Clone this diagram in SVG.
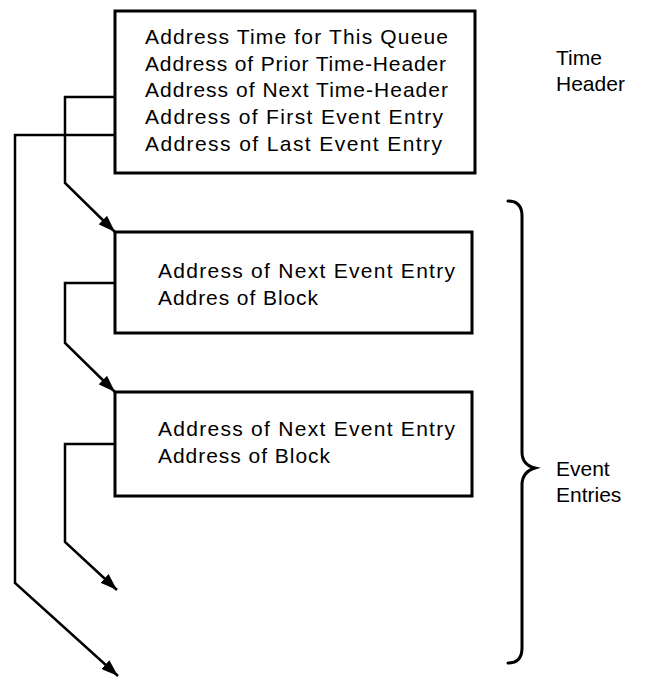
<svg xmlns="http://www.w3.org/2000/svg" width="646" height="680" viewBox="0 0 646 680">
<style>
.box{fill:#fff;stroke:#000;stroke-width:3}
.t{font-family:"Liberation Sans",Arial,sans-serif;font-size:21px;fill:#000}
.c{fill:none;stroke:#000;stroke-width:2.5;stroke-linejoin:miter}
.br{fill:none;stroke:#000;stroke-width:3;stroke-linecap:round}
</style>
<defs>
<marker id="ah" viewBox="0 0 17 12" refX="17" refY="6" markerWidth="17" markerHeight="12" markerUnits="userSpaceOnUse" orient="auto">
<path d="M0,0 L17,6 L0,12 Z" fill="#000"/>
</marker>
</defs>
<rect width="646" height="680" fill="#fff"/>
<g id="connectors">
<path class="c" d="M115,97 H65 V183 L115,232" marker-end="url(#ah)"/>
<path class="c" d="M115,135 H15 V583 L118,676" marker-end="url(#ah)"/>
<path class="c" d="M115,283 H65 V343 L115,392" marker-end="url(#ah)"/>
<path class="c" d="M115,444 H65 V542 L117,590" marker-end="url(#ah)"/>
</g>
<g id="time-header">
<rect class="box" x="115" y="11" width="360" height="162"/>
<text class="t" x="145" y="44" textLength="303">Address Time for This Queue</text>
<text class="t" x="145" y="71" textLength="301">Address of Prior Time-Header</text>
<text class="t" x="145" y="97" textLength="303">Address of Next Time-Header</text>
<text class="t" x="145" y="124" textLength="298">Address of First Event Entry</text>
<text class="t" x="145" y="151" textLength="297">Address of Last Event Entry</text>
</g>
<g id="time-header-label">
<text class="t" x="556" y="65">Time</text>
<text class="t" x="556" y="91">Header</text>
</g>
<g id="event-entry-1">
<rect class="box" x="115" y="232" width="357" height="101"/>
<text class="t" x="158" y="278" textLength="297">Address of Next Event Entry</text>
<text class="t" x="158" y="305" textLength="160">Addres of Block</text>
</g>
<g id="event-entry-2">
<rect class="box" x="115" y="392" width="357" height="104"/>
<text class="t" x="158" y="436" textLength="297">Address of Next Event Entry</text>
<text class="t" x="158" y="463" textLength="172">Address of Block</text>
</g>
<g id="event-entries-bracket">
<path class="br" d="M508,201 Q522,201 522,216 V452 Q522,465 535,468 Q522,472 522,485 V648 Q522,663 508,663"/>
<text class="t" x="556" y="476">Event</text>
<text class="t" x="556" y="502">Entries</text>
</g>
</svg>
